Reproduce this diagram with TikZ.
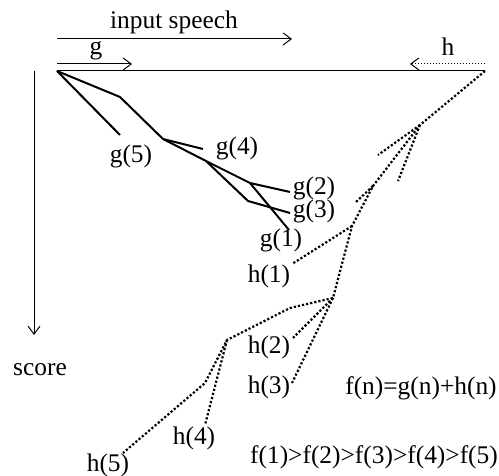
\documentclass[tikz,border=0pt]{standalone}
\usepackage{fontspec}
\setmainfont{Liberation Serif}
\usetikzlibrary{arrows.meta}

\begin{document}
\begin{tikzpicture}[x=0.5pt, y=-0.5pt, font=\fontsize{12.7}{15}\selectfont,
    gpath/.style={line width=1pt, line join=round},
    hpath/.style={densely dotted, line width=1.1pt},
    axis/.style={line width=0.5pt},
    barb/.style={-{Straight Barb[length=4pt,width=6pt]}},
    lbl/.style={inner sep=0pt}]
  \useasboundingbox (0,0) rectangle (499,476);
  % ---- axes: input speech (left to right), score (downwards) ----
  \coordinate (origin) at (57,71);
  \coordinate (hstart) at (485,71);
  \coordinate (speechL) at (57,39);  \coordinate (speechR) at (292,39);
  \coordinate (gL) at (57,64);       \coordinate (gR) at (132,64);
  \coordinate (hR) at (485,64);      \coordinate (hL) at (410,64);
  \coordinate (scoreT) at (34,71);   \coordinate (scoreB) at (34,335);
  \draw[axis, barb] (speechL) -- (speechR);
  \draw[axis, barb] (gL) -- (gR);
  \draw[axis, barb, densely dotted] (hR) -- (hL);
  \draw[axis] (origin) -- (hstart);
  \draw[axis, barb] (scoreT) -- (scoreB);
  \node[lbl] (lspeech) at (174,22) {input speech};
  \node[lbl] (lg) at (96,51) {g};
  \node[lbl] (lh) at (448,47) {h};
  \node[lbl] (lscore) at (40,370) {score};
  % ---- g: partial scores from the start ----
  \coordinate (ga) at (120,97);
  \coordinate (gb) at (163,139);
  \coordinate (gc) at (206,161);
  \coordinate (gd) at (250,183);
  \coordinate (ge) at (248,201);
  \coordinate (g5end) at (120,135);
  \coordinate (g4end) at (203,149);
  \coordinate (g2end) at (290,192);
  \coordinate (g1end) at (289,230);
  \coordinate (g3end) at (290,213);
  \draw[gpath] (origin) -- (g5end);
  \draw[gpath] (origin) -- (ga) -- (gb) -- (g4end);
  \draw[gpath] (gb) -- (gc) -- (gd) -- (g2end);
  \draw[gpath] (gd) -- (g1end);
  \draw[gpath] (gc) -- (ge) -- (g3end);
  \node[lbl] (g5) at (131,156) {g(5)};
  \node[lbl] (g4) at (237,148) {g(4)};
  \node[lbl] (g2) at (314,188) {g(2)};
  \node[lbl] (g3) at (314,211) {g(3)};
  \node[lbl] (g1) at (281,240) {g(1)};
  % ---- h: estimates from the end ----
  \coordinate (ha) at (420,125);
  \coordinate (hb) at (373,186);
  \coordinate (hc) at (352,226);
  \coordinate (hd) at (333,298);
  \coordinate (he) at (290,308);
  \coordinate (hf) at (227,340);
  \coordinate (hg) at (205,383);
  \coordinate (hx1) at (378,155);
  \coordinate (hx2) at (398,181);
  \coordinate (hx3) at (356,202);
  \coordinate (h1end) at (292,264);
  \coordinate (h2end) at (293,338);
  \coordinate (h3end) at (292,383);
  \coordinate (h4end) at (205,425);
  \coordinate (h5end) at (123,453);
  \draw[hpath] (hstart) -- (ha) -- (hb) -- (hc) -- (hd) -- (he) -- (hf) -- (hg) -- (h5end);
  \draw[hpath] (ha) -- (hx1);
  \draw[hpath] (ha) -- (hx2);
  \draw[hpath] (hb) -- (hx3);
  \draw[hpath] (hc) -- (h1end);
  \draw[hpath] (hd) -- (h2end);
  \draw[hpath] (hd) -- (h3end);
  \draw[hpath] (hf) -- (h4end);
  \node[lbl] (h1) at (269,276) {h(1)};
  \node[lbl] (h2) at (269,347) {h(2)};
  \node[lbl] (h3) at (269,387) {h(3)};
  \node[lbl] (h4) at (194,438) {h(4)};
  \node[lbl] (h5) at (108,465) {h(5)};
  % ---- formulas ----
  \node[lbl] (fsum) at (421,388) {f(n)=g(n)+h(n)};
  \node[lbl] (forder) at (374,457) {f(1)>f(2)>f(3)>f(4)>f(5)};
\end{tikzpicture}
\end{document}
